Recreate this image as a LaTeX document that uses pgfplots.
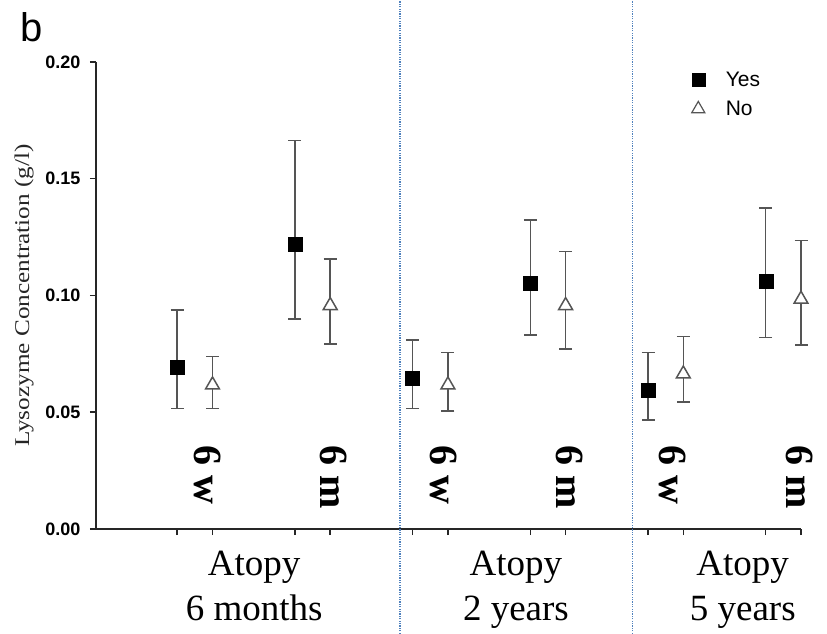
\documentclass[border=0pt]{standalone}
\usepackage{fontspec}
\setmainfont{Liberation Serif}
\newfontfamily\arial{Liberation Sans}
\usepackage{graphicx}
\usepackage{pgfplots}
\usepackage{pgfplotstable}
\pgfplotsset{compat=1.18}

\definecolor{errgray}{HTML}{555555}
\definecolor{sepblue}{HTML}{4F81BD}

% x: 0/1 = 6 months (6 w, 6 m), 2/3 = 2 years, 4/5 = 5 years
% ep/em: distance to the upper/lower whisker
\pgfplotstableread{
x     y       ep      em
0     0.0695  0.0243  0.0178
1     0.1221  0.0443  0.0321
2     0.0646  0.0164  0.0129
3     0.1053  0.0271  0.0222
4     0.0596  0.0159  0.0129
5     0.1060  0.0314  0.0240
}\yesdata

\pgfplotstableread{
x     y       ep      em
0.3   0.0617  0.0121  0.0100
1.3   0.0957  0.0199  0.0164
2.3   0.0617  0.0138  0.0111
3.3   0.0957  0.0231  0.0186
4.3   0.0664  0.0160  0.0121
5.3   0.0984  0.0251  0.0196
}\nodata

\begin{document}
\begin{tikzpicture}
\path[use as bounding box] (-96bp,-105bp) rectangle (731bp,529bp);
\begin{axis}[
    at={(0,0)}, anchor=south west,
    scale only axis, width=705bp, height=467bp,
    xmin=-0.69, xmax=5.3, ymin=0, ymax=0.2,
    axis x line*=bottom, axis y line*=left,
    axis line style={line width=1.5bp, black!85},
    clip=false,
    xtick={0,0.3,1,1.3,2,2.3,3,3.3,4,4.3,5,5.3},
    xticklabels={},
    ytick={0,0.05,0.1,0.15,0.2},
    tick align=outside,
    major tick length=6bp,
    tick style={line width=1.5bp, black!85},
    yticklabel style={font=\arial\bfseries\fontsize{18bp}{20bp}\selectfont, xshift=-6bp,
        /pgf/number format/.cd, fixed, fixed zerofill, precision=2, assume math mode=true},
    ylabel={\scalebox{1.2}[1]{Lysozyme Concentration (g/l)}},
    ylabel style={at={(axis description cs:0,0.5)}, anchor=center, yshift=72bp,
        font=\fontsize{21bp}{24bp}\selectfont, black!85},
    legend style={at={(axis cs:4.345,0.1975)}, anchor=north west, draw=none, fill=none,
        font=\arial\fontsize{21bp}{24bp}\selectfont, row sep=9bp, column sep=19bp},
    legend cell align=left,
]

\addlegendimage{only marks, mark=square*, mark size=6.5bp, black}
\addlegendentry{Yes}
\addlegendimage{only marks, mark=triangle*, mark size=7.5bp,
    mark options={fill=white, draw=errgray, line width=1.2bp}}
\addlegendentry{No}

% Yes
\addplot[forget plot, only marks, mark=square*, mark size=7bp, black,
    error bars/.cd, y dir=both, y explicit,
    error bar style={errgray, line width=1.5bp},
    error mark options={errgray, line width=1.5bp, mark size=6.5bp, rotate=90}]
    table[x=x, y=y, y error plus=ep, y error minus=em] {\yesdata};

% No
\addplot[forget plot, only marks, mark=triangle*, mark size=8bp,
    mark options={fill=white, draw=errgray, line width=1.5bp},
    error bars/.cd, y dir=both, y explicit,
    error bar style={errgray, line width=1.5bp},
    error mark options={errgray, line width=1.5bp, mark size=6.5bp, rotate=90}]
    table[x=x, y=y, y error plus=ep, y error minus=em] {\nodata};

% separators
\draw[sepblue, line width=1.2bp, dash pattern=on 1.2bp off 1.2bp]
    (axis cs:1.893,-0.05) -- (axis cs:1.893,0.23);
\draw[sepblue, line width=1.2bp, dash pattern=on 1.2bp off 1.2bp]
    (axis cs:3.871,-0.05) -- (axis cs:3.871,0.23);

% time point labels
\begin{scope}[every node/.style={rotate=-90, anchor=base west, inner sep=0pt,
        font=\bfseries\fontsize{40bp}{40bp}\selectfont}]
\node at (axis cs:0.144,0.036) {6 w};
\node at (axis cs:1.214,0.036) {6 m};
\node at (axis cs:2.148,0.036) {6 w};
\node at (axis cs:3.226,0.036) {6 m};
\node at (axis cs:4.100,0.036) {6 w};
\node at (axis cs:5.178,0.036) {6 m};
\end{scope}

% group labels
\begin{scope}[every node/.style={anchor=base, inner sep=0pt,
        font=\fontsize{37bp}{44bp}\selectfont}]
\node at (axis cs:0.654,-0.0197) {Atopy};
\node at (axis cs:0.654,-0.0390) {6 months};
\node at (axis cs:2.878,-0.0197) {Atopy};
\node at (axis cs:2.878,-0.0390) {2 years};
\node at (axis cs:4.805,-0.0197) {Atopy};
\node at (axis cs:4.805,-0.0390) {5 years};
\end{scope}
\end{axis}
\node[anchor=base west, inner sep=0pt, font=\arial\fontsize{40bp}{40bp}\selectfont]
    at (-76bp,487bp) {b};
\end{tikzpicture}
\end{document}
